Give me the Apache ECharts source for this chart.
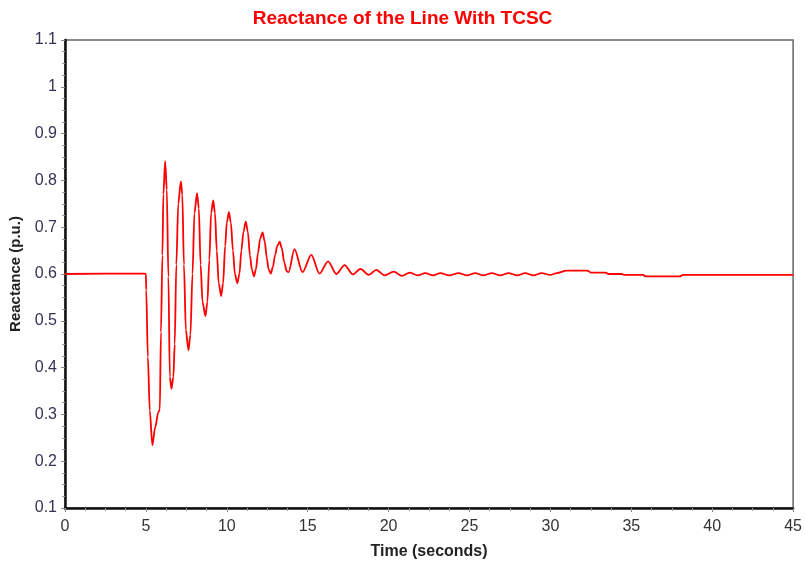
<!DOCTYPE html>
<html>
<head>
<meta charset="utf-8">
<script src="https://cdn.jsdelivr.net/npm/echarts@6/dist/echarts.min.js"></script>
<style>
html,body{margin:0;padding:0;background:#fff;}
#chart{width:805px;height:567px;}
</style>
</head>
<body>
<div id="chart"></div>
<script>
var titleText = 'Reactance of the Line With TCSC';
var xAxisName = 'Time (seconds)';
var yAxisName = 'Reactance (p.u.)';

var timeSec = [
  0, 4.5, 4.9, 5.0, 5.02, 5.12, 5.24, 5.40, 5.57, 5.77, 5.86, 5.93, 6.02, 6.08, 6.19, 6.29, 6.39, 6.48, 6.58,
  6.70, 6.78, 6.88, 7.0, 7.16,
  7.25, 7.35, 7.47, 7.63, 7.75, 7.88, 8.0, 8.16,
  8.27, 8.38, 8.50, 8.68, 8.80, 8.92, 9.03, 9.16,
  9.27, 9.38, 9.5, 9.65, 9.77, 9.9, 10.0, 10.13,
  10.25, 10.38, 10.5, 10.65, 10.78, 10.9, 11.03, 11.17,
  11.3, 11.43, 11.55, 11.68, 11.8, 11.93, 12.06, 12.21,
  12.34, 12.47, 12.58, 12.72, 12.85, 12.98, 13.12, 13.27,
  13.4, 13.55, 13.7, 13.82,
  14.18, 14.68, 15.22, 15.73, 16.26, 16.77, 17.28, 17.79, 18.26, 18.77, 19.24, 19.76,
  20.31, 20.83, 21.3, 21.8, 22.27, 22.75, 23.2, 23.75, 24.32, 24.85, 25.35, 25.85,
  26.38, 26.9, 27.41, 27.95, 28.44, 28.95, 29.46, 30.0, 30.4, 31.0, 32.3, 32.5,
  33.4, 33.6, 34.4, 34.6, 35.7, 35.9, 38.0, 38.2, 45
];
var reactance = [
  0.600, 0.601, 0.601, 0.600, 0.566, 0.423, 0.308, 0.234, 0.272, 0.305, 0.310, 0.476, 0.640, 0.770, 0.841, 0.780, 0.594, 0.380, 0.355,
  0.380, 0.450, 0.620, 0.750, 0.798,
  0.770, 0.620, 0.480, 0.437, 0.470, 0.600, 0.730, 0.773,
  0.740, 0.620, 0.540, 0.510, 0.540, 0.630, 0.730, 0.757,
  0.730, 0.650, 0.580, 0.553, 0.580, 0.660, 0.710, 0.732,
  0.710, 0.650, 0.600, 0.580, 0.600, 0.650, 0.690, 0.712,
  0.690, 0.640, 0.610, 0.595, 0.610, 0.645, 0.675, 0.689,
  0.670, 0.635, 0.610, 0.601, 0.615, 0.640, 0.660, 0.669,
  0.655, 0.625, 0.606, 0.604,
  0.653, 0.604, 0.641, 0.601, 0.627, 0.600, 0.619, 0.599, 0.611, 0.598, 0.609, 0.597,
  0.605, 0.596, 0.603, 0.597, 0.602, 0.597, 0.602, 0.597, 0.602, 0.597, 0.602, 0.597,
  0.602, 0.597, 0.602, 0.597, 0.602, 0.597, 0.602, 0.598, 0.602, 0.607, 0.607, 0.603,
  0.603, 0.600, 0.600, 0.598, 0.598, 0.595, 0.595, 0.598, 0.598
];

var points = timeSec.map(function (t, i) { return [t, reactance[i]]; });

var chart = echarts.init(document.getElementById('chart'), null, {renderer: 'canvas'});
var font = '"Liberation Sans", Arial, sans-serif';
chart.setOption({
  animation: false,
  backgroundColor: '#ffffff',
  title: {
    text: titleText,
    left: 'center',
    top: 4,
    textStyle: {color: '#ff0000', fontFamily: font, fontWeight: 'bold', fontSize: 19}
  },
  grid: {
    left: 65, right: 9, top: 40, bottom: 59,
    show: true, borderColor: '#666666', borderWidth: 1.5, backgroundColor: 'transparent'
  },
  xAxis: {
    type: 'value',
    min: 0, max: 45, interval: 5,
    name: xAxisName,
    nameLocation: 'middle',
    nameGap: 36,
    nameTextStyle: {color: '#222222', fontFamily: font, fontWeight: 'bold', fontSize: 16},
    axisLine: {show: true, onZero: false, lineStyle: {color: '#111111', width: 2.5}},
    axisTick: {show: true, inside: false, length: 4, lineStyle: {color: '#888888'}},
    minorTick: {show: true, splitNumber: 4, length: 3, lineStyle: {color: '#999999'}},
    axisLabel: {color: '#333333', fontFamily: font, fontSize: 16, margin: 11},
    splitLine: {show: false}
  },
  yAxis: {
    type: 'value',
    min: 0.1, max: 1.1, interval: 0.1,
    name: yAxisName,
    nameLocation: 'middle',
    nameGap: 31,
    nameTextStyle: {color: '#222222', fontFamily: font, fontWeight: 'bold', fontSize: 15},
    axisLine: {show: true, onZero: false, lineStyle: {color: '#111111', width: 2.5}},
    axisTick: {show: true, inside: false, length: 4, lineStyle: {color: '#888888'}},
    minorTick: {show: true, splitNumber: 4, length: 3, lineStyle: {color: '#999999'}},
    axisLabel: {
      color: '#333355', fontFamily: font, fontSize: 16, margin: 8,
      formatter: function (v) { return String(Math.round(v * 10) / 10); }
    },
    splitLine: {show: false}
  },
  series: [{
    type: 'line',
    data: points,
    showSymbol: false,
    smooth: 0.3,
    smoothMonotone: 'x',
    lineStyle: {color: '#ff0000', width: 1.8},
    itemStyle: {color: '#ff0000'}
  }]
});
</script>
</body>
</html>
